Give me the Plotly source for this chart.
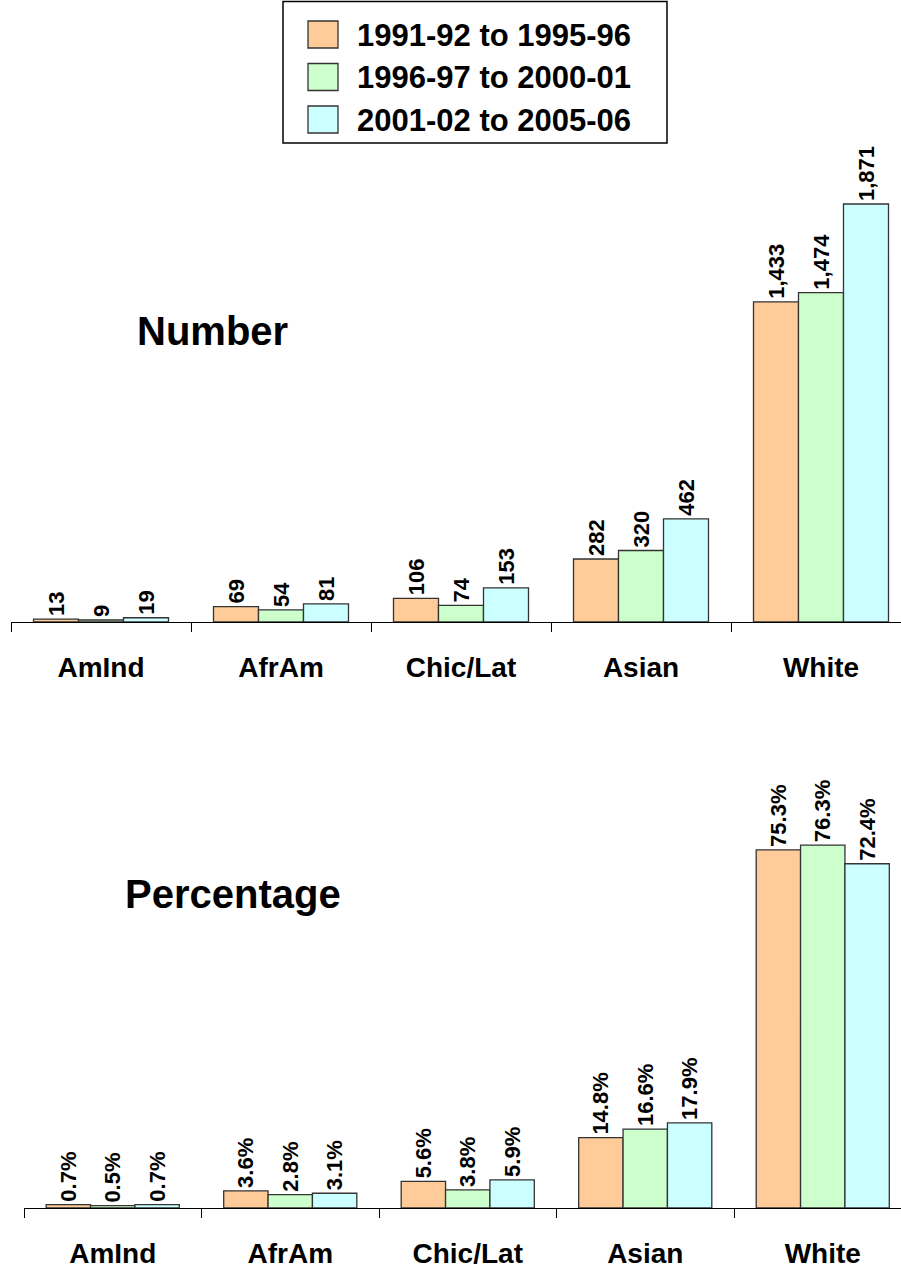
import plotly.graph_objects as go

# Degree recipients by ethnicity, three five-year periods
categories = ["AmInd", "AfrAm", "Chic/Lat", "Asian", "White"]
periods = ["1991-92 to 1995-96", "1996-97 to 2000-01", "2001-02 to 2005-06"]
number_p1 = [13, 69, 106, 282, 1433]
number_p2 = [9, 54, 74, 320, 1474]
number_p3 = [19, 81, 153, 462, 1871]
pct_p1 = [0.7, 3.6, 5.6, 14.8, 75.3]
pct_p2 = [0.5, 2.8, 3.8, 16.6, 76.3]
pct_p3 = [0.7, 3.1, 5.9, 17.9, 72.4]

colors = ["#FFCC99", "#CCFFCC", "#CCFFFF"]
W, H = 901, 1270
FONT = "Liberation Sans, Arial, Helvetica, sans-serif"


def px(x):
    return x / W


def py(y):
    return 1 - y / H


fig = go.Figure()

label_font = dict(family=FONT, size=22, color="black", weight="bold")

for name, vals, col in zip(periods, [number_p1, number_p2, number_p3], colors):
    fig.add_trace(go.Bar(
        x=categories, y=vals, name=name, xaxis="x", yaxis="y",
        marker=dict(color=col, line=dict(color="#333333", width=1.3)),
        text=[f"{v:,}" for v in vals], textposition="outside", textangle=-90,
        constraintext="none", textfont=label_font,
        cliponaxis=False, showlegend=False,
    ))

for name, vals, col in zip(periods, [pct_p1, pct_p2, pct_p3], colors):
    fig.add_trace(go.Bar(
        x=categories, y=vals, name=name, xaxis="x2", yaxis="y2",
        marker=dict(color=col, line=dict(color="#333333", width=1.3)),
        text=[f"{v:.1f}%" for v in vals], textposition="outside", textangle=-90,
        constraintext="none", textfont=label_font,
        cliponaxis=False, showlegend=False,
    ))

xaxis_common = dict(
    type="category", showline=True, linecolor="black", linewidth=1,
    ticks="outside", tickson="boundaries", ticklen=9, tickcolor="black",
    tickwidth=1, showgrid=False, zeroline=False, automargin=False,
    tickfont=dict(family=FONT, size=28, color="black", weight="bold"),
    ticklabelstandoff=20,
)
yaxis_common = dict(visible=False, showgrid=False, zeroline=False)

fig.update_layout(
    width=W, height=H,
    margin=dict(l=0, r=0, t=0, b=0),
    paper_bgcolor="white", plot_bgcolor="white",
    barmode="group", bargap=0.25, bargroupgap=0,
    showlegend=False,
    xaxis=dict(**xaxis_common, domain=[px(11), 1], anchor="y",
               range=[-0.5, -0.5 + 890 / 180]),
    yaxis=dict(**yaxis_common, domain=[py(622), py(622 - 2000 * 418 / 1871)],
               range=[0, 2000], anchor="x"),
    xaxis2=dict(**xaxis_common, domain=[px(24), 1], anchor="y2",
                range=[-0.5, -0.5 + 877 / 177.5]),
    yaxis2=dict(**yaxis_common, domain=[py(1208), py(1208 - 80 * 4.755)],
                range=[0, 80], anchor="x2"),
)

# Panel titles
fig.add_annotation(text="Number", x=px(212), y=py(331), xref="paper", yref="paper",
                   showarrow=False, xanchor="center", yanchor="middle",
                   font=dict(family=FONT, size=40, color="black", weight="bold"))
fig.add_annotation(text="Percentage", x=px(233), y=py(894), xref="paper", yref="paper",
                   showarrow=False, xanchor="center", yanchor="middle",
                   font=dict(family=FONT, size=40, color="black", weight="bold"))

# Boxed legend with large swatches
fig.add_shape(type="rect", xref="paper", yref="paper",
              x0=px(283), x1=px(667), y0=py(143), y1=py(1.5),
              line=dict(color="black", width=1.5), fillcolor="rgba(0,0,0,0)")
row_centers = [34.5, 77, 119.5]
for name, col, yc in zip(periods, colors, row_centers):
    fig.add_shape(type="rect", xref="paper", yref="paper",
                  x0=px(308), x1=px(338), y0=py(yc + 13.5), y1=py(yc - 13.5),
                  line=dict(color="#333333", width=1.3), fillcolor=col)
    fig.add_annotation(text=name, x=px(355), y=py(yc + 1), xref="paper", yref="paper",
                       showarrow=False, xanchor="left", yanchor="middle",
                       font=dict(family=FONT, size=31, color="black", weight="bold"))

fig.write_html("out.html")
